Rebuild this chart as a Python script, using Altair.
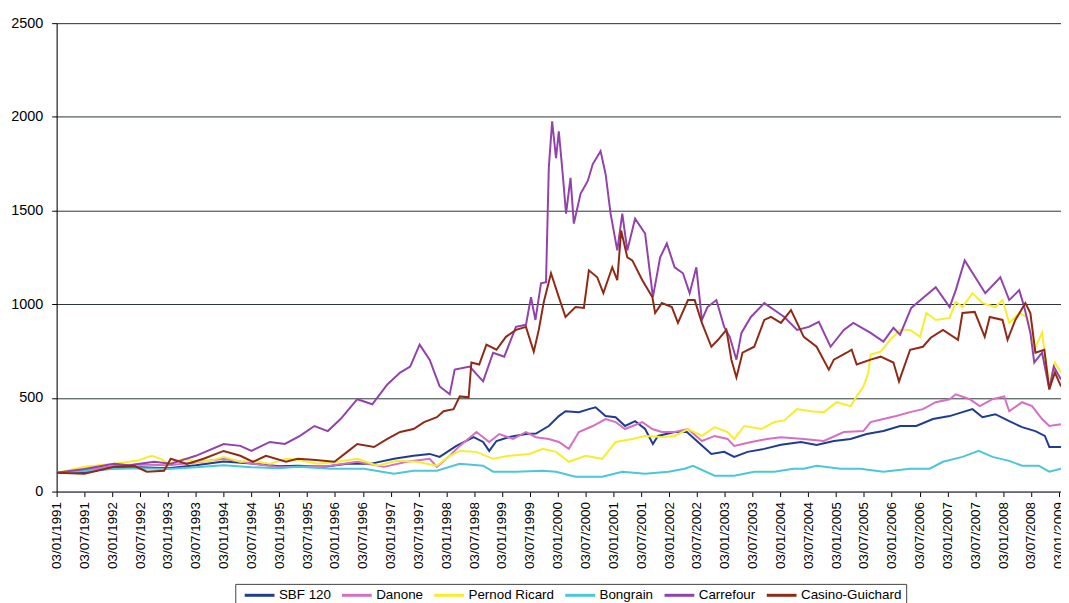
import altair as alt
import pandas as pd

# ---------------- data (t = years since 03/01/1991, v = index base 100) ----------------
series_names = ["SBF 120", "Danone", "Pernod Ricard", "Bongrain", "Carrefour", "Casino-Guichard"]
series_colors = ["#1f3c91", "#d46fc4", "#f6ee2c", "#4cc6d8", "#9142ad", "#8f2a16"]

sbf_t = [0, 0.5, 1.0, 1.5, 2.0, 2.5, 3.0, 3.5, 4.0, 4.33, 4.81, 5.22, 5.63, 6.06, 6.41, 6.7, 6.88, 7.18, 7.49, 7.66, 7.77, 7.9, 8.13, 8.43, 8.61, 8.84, 9.02, 9.14, 9.38, 9.56, 9.68, 9.86, 10.04, 10.21, 10.39, 10.57, 10.71, 10.8, 11.1, 11.32, 11.52, 11.76, 11.99, 12.17, 12.41, 12.71, 13.01, 13.37, 13.65, 13.96, 14.26, 14.55, 14.85, 15.15, 15.44, 15.74, 16.04, 16.27, 16.45, 16.63, 16.86, 17.11, 17.34, 17.58, 17.75, 17.83, 18.04]
sbf_v = [100, 105, 125, 130, 125, 140, 160, 150, 135, 138, 132, 148, 148, 175, 191, 201, 185, 244, 291, 265, 217, 270, 291, 307, 310, 350, 403, 429, 424, 440, 450, 403, 397, 350, 376, 334, 254, 297, 318, 318, 265, 201, 212, 185, 212, 228, 250, 265, 249, 270, 281, 307, 323, 350, 350, 387, 403, 424, 440, 397, 413, 376, 344, 323, 297, 238, 238]

danone_t = [0, 0.5, 1.0, 1.5, 2.0, 2.5, 3.0, 3.5, 4.0, 4.33, 4.92, 5.4, 5.88, 6.29, 6.7, 6.83, 7.06, 7.24, 7.54, 7.77, 7.95, 8.2, 8.43, 8.61, 8.84, 9.02, 9.2, 9.38, 9.63, 9.86, 10.04, 10.21, 10.52, 10.7, 10.87, 11.1, 11.34, 11.59, 11.82, 12.05, 12.17, 12.48, 12.76, 13.01, 13.42, 13.78, 14.14, 14.49, 14.62, 14.85, 15.08, 15.33, 15.56, 15.79, 16.04, 16.15, 16.4, 16.58, 16.81, 17.02, 17.11, 17.34, 17.52, 17.7, 17.83, 18.04]
danone_v = [100, 115, 135, 145, 140, 155, 175, 150, 130, 132, 138, 159, 132, 159, 175, 132, 191, 244, 318, 265, 307, 281, 318, 290, 281, 265, 228, 318, 350, 387, 371, 334, 371, 334, 318, 318, 334, 270, 297, 281, 244, 265, 281, 290, 281, 270, 318, 323, 371, 387, 403, 424, 440, 477, 493, 519, 493, 456, 493, 508, 429, 477, 456, 387, 350, 360]

pernod_t = [0, 0.5, 1.03, 1.44, 1.71, 1.87, 2.01, 2.28, 2.51, 2.76, 3.0, 3.3, 3.53, 3.83, 4.12, 4.33, 4.69, 5.04, 5.4, 5.76, 6.11, 6.47, 6.83, 7.06, 7.24, 7.54, 7.84, 8.13, 8.49, 8.73, 8.97, 9.2, 9.5, 9.8, 10.04, 10.34, 10.57, 10.87, 11.1, 11.34, 11.59, 11.82, 12.05, 12.17, 12.35, 12.66, 12.89, 13.07, 13.3, 13.55, 13.78, 14.01, 14.26, 14.37, 14.49, 14.58, 14.62, 14.8, 14.97, 15.15, 15.33, 15.51, 15.62, 15.79, 16.04, 16.15, 16.27, 16.45, 16.63, 16.86, 16.99, 17.11, 17.29, 17.43, 17.56, 17.7, 17.83, 17.93, 18.04]
pernod_v = [100, 132, 148, 164, 191, 175, 148, 175, 159, 164, 185, 159, 164, 148, 175, 170, 148, 159, 175, 138, 164, 159, 138, 191, 217, 212, 175, 191, 201, 228, 212, 159, 191, 175, 265, 281, 297, 291, 297, 334, 297, 344, 318, 281, 350, 334, 371, 380, 440, 429, 424, 477, 456, 508, 561, 635, 731, 747, 810, 863, 863, 826, 953, 916, 927, 1012, 985, 1059, 1006, 985, 1022, 900, 953, 932, 757, 847, 561, 689, 635]

bongrain_t = [0, 0.5, 1.0, 1.5, 2.0, 2.5, 3.0, 3.5, 4.0, 4.33, 4.92, 5.52, 6.06, 6.41, 6.83, 7.24, 7.66, 7.84, 8.25, 8.73, 8.97, 9.32, 9.8, 10.16, 10.57, 10.99, 11.28, 11.43, 11.82, 12.17, 12.53, 12.89, 13.24, 13.42, 13.65, 14.08, 14.43, 14.85, 15.33, 15.68, 15.92, 16.27, 16.56, 16.81, 17.11, 17.34, 17.64, 17.83, 18.04]
bongrain_v = [100, 110, 120, 125, 120, 130, 140, 130, 125, 132, 122, 122, 95, 111, 111, 148, 138, 106, 106, 111, 106, 79, 79, 106, 95, 106, 122, 138, 85, 85, 106, 106, 122, 122, 138, 122, 122, 106, 122, 122, 159, 185, 217, 185, 164, 138, 138, 106, 122]

carrefour_t = [0, 0.5, 1.03, 1.3, 1.75, 2.05, 2.5, 3.0, 3.3, 3.5, 3.83, 4.1, 4.37, 4.63, 4.87, 5.1, 5.4, 5.67, 5.94, 6.17, 6.35, 6.52, 6.7, 6.88, 7.06, 7.15, 7.42, 7.66, 7.84, 8.04, 8.25, 8.43, 8.52, 8.6, 8.7, 8.79, 8.84, 8.9, 8.97, 9.02, 9.09, 9.15, 9.23, 9.29, 9.41, 9.54, 9.63, 9.77, 9.86, 9.95, 10.07, 10.16, 10.25, 10.39, 10.57, 10.71, 10.84, 10.96, 11.1, 11.25, 11.37, 11.49, 11.59, 11.69, 11.85, 11.99, 12.09, 12.21, 12.3, 12.47, 12.71, 12.89, 13.07, 13.3, 13.51, 13.69, 13.9, 14.14, 14.31, 14.62, 14.85, 15.03, 15.15, 15.35, 15.56, 15.79, 16.04, 16.15, 16.31, 16.5, 16.68, 16.95, 17.11, 17.29, 17.38, 17.49, 17.56, 17.7, 17.83, 17.91, 18.04]
carrefour_v = [100, 120, 148, 140, 159, 148, 191, 254, 244, 217, 265, 254, 297, 350, 323, 387, 493, 466, 572, 635, 667, 784, 704, 561, 519, 651, 667, 588, 741, 720, 879, 890, 1038, 916, 1112, 1118, 1727, 1976, 1780, 1923, 1695, 1483, 1674, 1430, 1589, 1658, 1748, 1817, 1695, 1483, 1287, 1483, 1287, 1457, 1377, 1038, 1250, 1324, 1197, 1165, 1059, 1197, 916, 985, 1022, 879, 826, 704, 847, 932, 1006, 969, 932, 863, 879, 906, 773, 863, 900, 847, 800, 874, 837, 980, 1033, 1091, 985, 1075, 1234, 1144, 1059, 1144, 1022, 1075, 985, 847, 689, 741, 546, 667, 598]

casino_t = [0, 0.5, 1.03, 1.39, 1.62, 1.93, 2.05, 2.34, 2.64, 3.0, 3.3, 3.53, 3.76, 4.12, 4.33, 4.6, 4.99, 5.22, 5.4, 5.7, 5.94, 6.17, 6.41, 6.6, 6.83, 6.95, 7.13, 7.24, 7.4, 7.45, 7.59, 7.72, 7.9, 8.07, 8.25, 8.43, 8.57, 8.66, 8.75, 8.88, 9.02, 9.14, 9.32, 9.47, 9.56, 9.71, 9.82, 9.98, 10.07, 10.14, 10.25, 10.34, 10.52, 10.7, 10.75, 10.87, 11.05, 11.16, 11.34, 11.46, 11.59, 11.76, 11.88, 12.03, 12.12, 12.21, 12.32, 12.53, 12.71, 12.83, 13.01, 13.19, 13.42, 13.65, 13.87, 13.96, 14.19, 14.28, 14.37, 14.62, 14.8, 15.03, 15.13, 15.33, 15.56, 15.7, 15.92, 16.19, 16.27, 16.49, 16.67, 16.76, 16.99, 17.08, 17.22, 17.4, 17.49, 17.58, 17.74, 17.83, 17.93, 18.04]
casino_v = [100, 95, 132, 138, 106, 111, 175, 148, 175, 217, 191, 159, 191, 159, 175, 170, 159, 212, 254, 238, 281, 318, 334, 371, 397, 429, 440, 508, 503, 689, 678, 784, 757, 826, 863, 879, 747, 863, 1012, 1165, 1038, 932, 985, 980, 1181, 1144, 1059, 1197, 1128, 1393, 1250, 1234, 1128, 1038, 953, 1006, 985, 900, 1022, 1022, 900, 773, 810, 863, 704, 609, 741, 773, 916, 932, 900, 969, 826, 773, 651, 704, 741, 757, 678, 704, 720, 689, 588, 757, 773, 821, 863, 810, 953, 959, 826, 932, 916, 810, 916, 1006, 953, 741, 757, 546, 635, 561]

y_ticks = [0, 500, 1000, 1500, 2000, 2500]
x_ticks = [i * 0.5 for i in range(37)]  # 03/01 and 03/07 of each year 1991-2009

# ---------------- table ----------------
all_series = [
    (series_names[0], sbf_t, sbf_v),
    (series_names[1], danone_t, danone_v),
    (series_names[2], pernod_t, pernod_v),
    (series_names[3], bongrain_t, bongrain_v),
    (series_names[4], carrefour_t, carrefour_v),
    (series_names[5], casino_t, casino_v),
]
rows = []
for name, ts, vs in all_series:
    for t, v in zip(ts, vs):
        rows.append({"series": name, "t": t, "v": v})
df = pd.DataFrame(rows)

FONT = "Liberation Sans"
label_expr = "(datum.value % 1 == 0 ? '03/01/' : '03/07/') + (1991 + floor(datum.value))"

chart = alt.Chart(df).mark_line(strokeWidth=2, clip=True).encode(
    x=alt.X(
        "t:Q",
        scale=alt.Scale(domain=[0, 18.04], nice=False, zero=False),
        axis=alt.Axis(
            values=x_ticks, labelExpr=label_expr, labelAngle=-90, title=None,
            grid=False, tickSize=5, tickColor="#000", domainColor="#556", labelPadding=5,
            labelFontSize=13.5, labelFont=FONT, labelColor="#000", labelOverlap=False,
            labelAlign="right", labelBaseline="middle",
        ),
    ),
    y=alt.Y(
        "v:Q",
        scale=alt.Scale(domain=[0, 2500], nice=False),
        axis=alt.Axis(
            values=y_ticks, format="d", title=None, grid=True, gridColor="#2a3538", gridWidth=1,
            tickSize=5, tickColor="#000", domainColor="#000", labelPadding=9,
            labelFontSize=14.5, labelFont=FONT, labelColor="#000",
        ),
    ),
    color=alt.Color(
        "series:N",
        scale=alt.Scale(domain=series_names, range=series_colors),
        legend=alt.Legend(
            title=None, orient="none", legendX=180, legendY=565, direction="horizontal",
            columns=6, symbolType="M-0.33,0H4.67", symbolSize=144, symbolStrokeWidth=3,
            labelFontSize=13.5, labelFont=FONT, labelColor="#000",
            strokeColor="#444", fillColor="#ffffff", padding=4, columnPadding=4,
            labelOffset=25,
        ),
    ),
).properties(
    width=1012,
    height=472,
    padding={"left": 49, "top": 13, "right": 0, "bottom": 110},
    autosize=alt.AutoSizeParams(type="none"),
).configure_view(
    fill="#c0c0c0", strokeWidth=0
).configure(background="#ffffff")

chart.save("out.html", embed_options={"renderer": "svg", "actions": False})
